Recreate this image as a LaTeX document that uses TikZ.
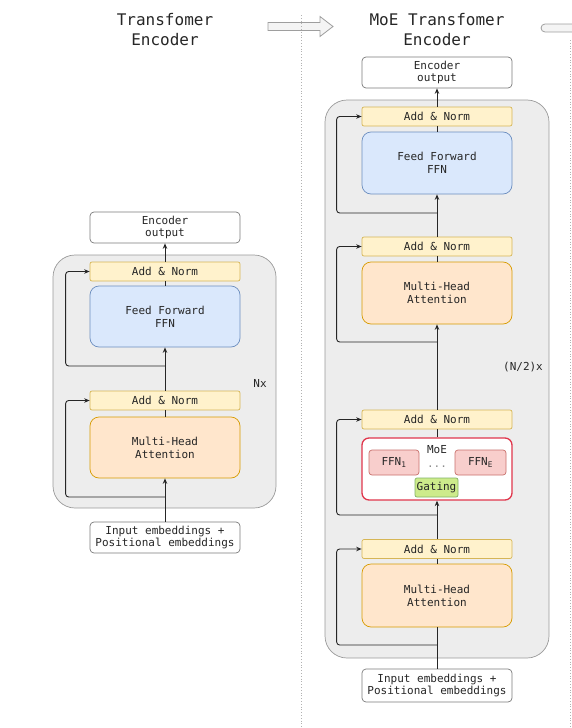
\documentclass[tikz,border=0pt]{standalone}
\usepackage{fontspec}
\setmonofont{DejaVu Sans Mono}
\usetikzlibrary{arrows.meta}
\definecolor{txt}{HTML}{262626}
\definecolor{contfill}{HTML}{EDEDED}
\definecolor{contline}{HTML}{9A9A9A}
\definecolor{anfill}{HTML}{FFF2CC}
\definecolor{anline}{HTML}{D6B656}
\definecolor{ffnfill}{HTML}{DAE8FC}
\definecolor{ffnline}{HTML}{6C8EBF}
\definecolor{mhafill}{HTML}{FFE6CC}
\definecolor{mhaline}{HTML}{D79B00}
\definecolor{moeline}{HTML}{E0364C}
\definecolor{expfill}{HTML}{F8CECC}
\definecolor{expline}{HTML}{C9706C}
\definecolor{gatefill}{HTML}{CDEB8B}
\definecolor{gateline}{HTML}{82B366}
\definecolor{ioline}{HTML}{7A7A7A}
\definecolor{bigarrfill}{HTML}{F4F4F4}
\definecolor{bigarrline}{HTML}{9E9E9E}
\begin{document}
\begin{tikzpicture}[x=1pt,y=-1pt,
  font=\ttfamily\fontsize{11}{12.8}\selectfont,
  boxbase/.style={draw, align=center, text=txt, inner sep=0pt, line width=0.7pt, minimum width=150pt},
  anbox/.style={boxbase, fill=anfill, draw=anline, minimum height=19pt, rounded corners=2pt},
  ffnbox/.style={boxbase, fill=ffnfill, draw=ffnline, minimum height=61pt, rounded corners=9pt},
  mhabox/.style={boxbase, fill=mhafill, draw=mhaline, minimum height=61pt, rounded corners=9pt},
  iobox/.style={boxbase, fill=white, draw=ioline, minimum height=31pt, rounded corners=4pt},
  contbox/.style={draw=contline, fill=contfill, line width=0.7pt, rounded corners=22pt, inner sep=0pt},
  moebox/.style={boxbase, fill=white, draw=moeline, line width=1.3pt, minimum height=62pt, rounded corners=7pt},
  expbox/.style={boxbase, fill=expfill, draw=expline, minimum width=50pt, minimum height=25pt, rounded corners=3pt},
  gatebox/.style={boxbase, fill=gatefill, draw=gateline, minimum width=43pt, minimum height=19pt, rounded corners=2pt},
  titletext/.style={align=center, text=black!85, font=\ttfamily\fontsize{16}{20}\selectfont},
  lbl/.style={text=txt},
  ln/.style={line width=0.9pt, draw=black!85},
  arr/.style={ln, -{Stealth[length=5.5pt,width=4.5pt]}},
  res/.style={arr, rounded corners=3pt},
  sep/.style={draw=black!30, dotted, line width=0.8pt},
  bigarr/.style={draw=bigarrline, fill=bigarrfill, line width=0.8pt}
]
\useasboundingbox (0,0) rectangle (572,728);

% big arrows
\draw[bigarr] (268,22.5) -- (320,22.5) -- (320,16.5) -- (333,26.5) -- (320,36.5) -- (320,30.5) -- (268,30.5) -- cycle;
\draw[bigarr] (572,24) -- (545,24) arc[start angle=90,end angle=270,radius=4pt] -- (572,32);
% separators
\draw[sep] (301,15) -- (301,728);
\draw[sep] (570,40) -- (570,728);

% titles
\node[titletext] (tL) at (165,30) {Transfomer\\Encoder};
\node[titletext] (tR) at (437,30) {MoE Transfomer\\Encoder};

% ---------- left encoder ----------
\node[contbox, minimum width=223pt, minimum height=253pt] (contL) at (164.5,381.5) {};
\node[iobox] (encL) at (165,227.5) {Encoder\\output};
\node[anbox] (anL1) at (165,271.5) {Add \& Norm};
\node[ffnbox] (ffnL) at (165,316.5) {Feed Forward\\FFN};
\node[anbox] (anL2) at (165,400.5) {Add \& Norm};
\node[mhabox] (mhaL) at (165,447.5) {Multi-Head\\Attention};
\node[iobox, minimum width=150pt] (inL) at (165,537.5) {Input embeddings +\\Positional embeddings};
\node[lbl] (nxL) at (260,383) {Nx};
\coordinate (rL1) at (165,366);
\coordinate (rL2) at (165,497);

\draw[arr] (inL.north) -- (mhaL.south);
\draw[ln] (mhaL.north) -- (anL2.south);
\draw[arr] (anL2.north) -- (ffnL.south);
\draw[ln] (ffnL.north) -- (anL1.south);
\draw[arr] (anL1.north) -- (encL.south);
\draw[res] (rL2) -| ([xshift=-24pt]anL2.west) -- (anL2.west);
\draw[res] (rL1) -| ([xshift=-24pt]anL1.west) -- (anL1.west);

% ---------- right encoder ----------
\node[contbox, minimum width=224pt, minimum height=558pt] (contR) at (437,379) {};
\node[iobox] (encR) at (437,72.5) {Encoder\\output};
\node[anbox] (anR1) at (437,116.5) {Add \& Norm};
\node[ffnbox, minimum height=62pt] (ffnR) at (437,163) {Feed Forward\\FFN};
\node[anbox] (anR2) at (437,246.5) {Add \& Norm};
\node[mhabox, minimum height=62pt] (mhaR1) at (437,293) {Multi-Head\\Attention};
\node[anbox] (anR3) at (437,419.5) {Add \& Norm};
\node[moebox] (moe) at (437,469) {};
\node[lbl] (moeL) at (437,450) {MoE};
\node[expbox] (ffn1) at (394,462.5) {FFN\textsubscript{1}};
\node[expbox, minimum width=51pt] (ffnE) at (480.5,462.5) {FFN\textsubscript{E}};
\node[text=black!45] (dots) at (437,467) {...};
\node[gatebox] (gate) at (436.5,487.5) {Gating};
\node[anbox] (anR4) at (437,549) {Add \& Norm};
\node[mhabox, minimum height=63pt] (mhaR2) at (437,595.5) {Multi-Head\\Attention};
\node[iobox, minimum height=33pt] (inR) at (437,685.5) {Input embeddings +\\Positional embeddings};
\node[lbl] (nxR) at (523,367) {(N/2)x};
\coordinate (rR1) at (437,213);
\coordinate (rR2) at (437,342);
\coordinate (rR3) at (437,515);
\coordinate (rR4) at (437,645);

\draw[ln] (inR.north) -- (mhaR2.south);
\draw[ln] (mhaR2.north) -- (anR4.south);
\draw[arr] (anR4.north) -- (moe.south);
\draw[ln] (moe.north) -- (anR3.south);
\draw[arr] (anR3.north) -- (mhaR1.south);
\draw[ln] (mhaR1.north) -- (anR2.south);
\draw[arr] (anR2.north) -- (ffnR.south);
\draw[ln] (ffnR.north) -- (anR1.south);
\draw[arr] (anR1.north) -- (encR.south);
\draw[res] (rR4) -| ([xshift=-25pt]anR4.west) -- (anR4.west);
\draw[res] (rR3) -| ([xshift=-25pt]anR3.west) -- (anR3.west);
\draw[res] (rR2) -| ([xshift=-25pt]anR2.west) -- (anR2.west);
\draw[res] (rR1) -| ([xshift=-25pt]anR1.west) -- (anR1.west);
\end{tikzpicture}
\end{document}
